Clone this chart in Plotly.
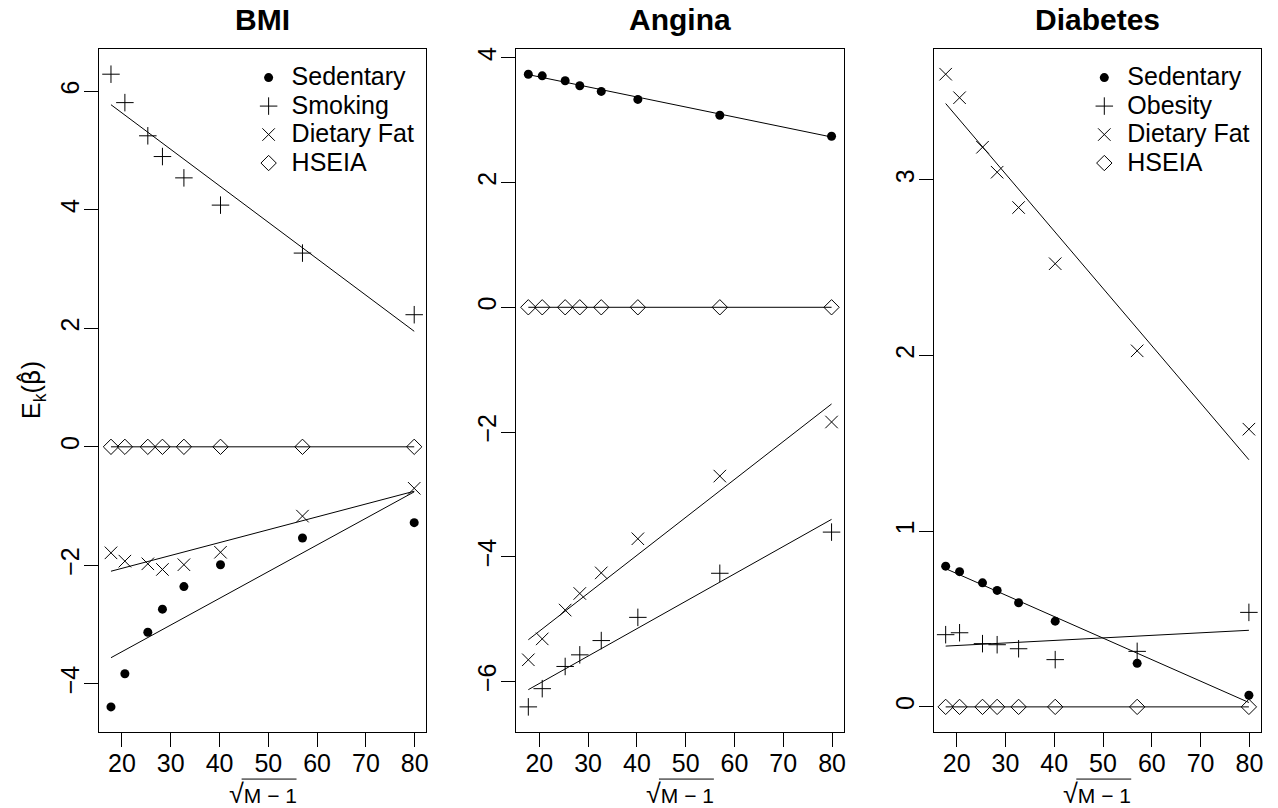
import plotly.graph_objects as go

# ---------------- data ----------------
x_vals = [17.75, 20.6, 25.3, 28.3, 32.7, 40.2, 57.0, 79.9]   # sqrt(M-1)
x_ticks = [20, 30, 40, 50, 60, 70, 80]

panel_titles = ["BMI", "Angina", "Diabetes"]

bmi_names = ["Sedentary", "Smoking", "Dietary Fat", "HSEIA"]
bmi_sedentary = [-4.39, -3.83, -3.13, -2.74, -2.36, -1.99, -1.54, -1.28]
bmi_smoking = [6.29, 5.81, 5.25, 4.90, 4.54, 4.08, 3.27, 2.23]
bmi_dietary_fat = [-1.79, -1.93, -1.975, -2.07, -1.99, -1.78, -1.17, -0.70]
bmi_hseia = [0, 0, 0, 0, 0, 0, 0, 0]
bmi_fit_left = [-3.56, 5.775, -2.10, 0.0]     # fitted line value at first x
bmi_fit_right = [-0.76, 1.95, -0.75, 0.0]     # fitted line value at last x
bmi_yticks = [-4, -2, 0, 2, 4, 6]

angina_names = ["Sedentary", "Smoking", "Dietary Fat", "HSEIA"]
angina_sedentary = [3.737, 3.711, 3.631, 3.551, 3.461, 3.333, 3.078, 2.743]
angina_smoking = [-6.406, -6.114, -5.758, -5.572, -5.343, -4.971, -4.264, -3.604]
angina_dietary_fat = [-5.651, -5.316, -4.854, -4.588, -4.258, -3.711, -2.706, -1.839]
angina_hseia = [0, 0, 0, 0, 0, 0, 0, 0]
angina_fit_left = [3.73, -6.13, -5.33, 0.0]
angina_fit_right = [2.73, -3.40, -1.55, 0.0]
angina_yticks = [-6, -4, -2, 0, 2, 4]

diab_names = ["Sedentary", "Obesity", "Dietary Fat", "HSEIA"]
diab_sedentary = [0.801, 0.770, 0.706, 0.663, 0.593, 0.488, 0.248, 0.066]
diab_obesity = [0.411, 0.422, 0.360, 0.354, 0.331, 0.269, 0.316, 0.538]
diab_dietary_fat = [3.602, 3.468, 3.186, 3.044, 2.843, 2.523, 2.027, 1.581]
diab_hseia = [0, 0, 0, 0, 0, 0, 0, 0]
diab_fit_left = [0.787, 0.346, 3.435, 0.0]
diab_fit_right = [0.025, 0.436, 1.407, 0.0]
diab_yticks = [0, 1, 2, 3]

# ---------------- styling ----------------
FONT = "Liberation Sans, Arial, Helvetica, sans-serif"
W, H = 1278, 808
symbols = ["circle", "cross-thin-open", "x-thin-open", "diamond-open"]
sizes = [9, 12.5, 12.5, 11.8]

panels = [
    dict(names=bmi_names, ys=[bmi_sedentary, bmi_smoking, bmi_dietary_fat, bmi_hseia],
         fl=bmi_fit_left, fr=bmi_fit_right, yt=bmi_yticks, legend="legend", box=(99, 427)),
    dict(names=angina_names, ys=[angina_sedentary, angina_smoking, angina_dietary_fat, angina_hseia],
         fl=angina_fit_left, fr=angina_fit_right, yt=angina_yticks, legend=None, box=(517, 845)),
    dict(names=diab_names, ys=[diab_sedentary, diab_obesity, diab_dietary_fat, diab_hseia],
         fl=diab_fit_left, fr=diab_fit_right, yt=diab_yticks, legend="legend2", box=(935, 1263)),
]
box_top, box_bottom = 47, 732
ydom = [1 - box_bottom / H, 1 - box_top / H]


def r_range(vals):
    lo, hi = min(vals), max(vals)
    pad = 0.04 * (hi - lo)
    return [lo - pad, hi + pad]


xr = r_range(x_vals)
fig = go.Figure()
layout = dict(width=W, height=H, margin=dict(l=0, r=0, t=0, b=0),
              paper_bgcolor="white", plot_bgcolor="white", showlegend=True)
annotations = []
shapes = []

for i, p in enumerate(panels):
    k = "" if i == 0 else str(i + 1)
    xa, ya = "x" + k, "y" + k
    allv = [v for s in p["ys"] for v in s]
    yr = r_range(allv)
    for j, (nm, ys) in enumerate(zip(p["names"], p["ys"])):
        fig.add_trace(go.Scatter(
            x=[x_vals[0], x_vals[-1]], y=[p["fl"][j], p["fr"][j]], mode="lines",
            line=dict(color="black", width=1), xaxis=xa, yaxis=ya,
            showlegend=False, hoverinfo="skip"))
        mk = dict(symbol=symbols[j], size=sizes[j], color="black",
                  line=dict(color="black", width=0 if j == 0 else 1))
        fig.add_trace(go.Scatter(
            x=x_vals, y=ys, mode="markers", marker=mk, xaxis=xa, yaxis=ya,
            name='<span style="font-size:25px">%s</span>' % nm,
            showlegend=p["legend"] is not None,
            legend=p["legend"] if p["legend"] else "legend"))
    x0, x1 = p["box"]
    axcommon = dict(ticks="outside", ticklen=14, tickwidth=1, tickcolor="black",
                    showline=True, linecolor="black", linewidth=1, mirror=True,
                    showgrid=False, zeroline=False,
                    tickfont=dict(family=FONT, size=25, color="black"))
    layout["xaxis" + k] = dict(domain=[x0 / W, x1 / W], anchor=ya, range=xr,
                               tickmode="array", tickvals=x_ticks,
                               ticktext=[str(t) for t in x_ticks],
                               ticklabelstandoff=-5, **axcommon)
    layout["yaxis" + k] = dict(domain=ydom, anchor=xa, range=yr, tickmode="array",
                               tickvals=p["yt"],
                               ticktext=[str(t).replace("-", "\u2212") for t in p["yt"]],
                               tickangle=-90, ticklabelstandoff=-5, **axcommon)
    cxp = (x0 + x1) / 2
    cx = cxp / W
    annotations.append(dict(text="<b>%s</b>" % panel_titles[i], x=cx, y=1 - 18 / H,
                            xref="paper", yref="paper", showarrow=False,
                            xanchor="center", yanchor="middle",
                            font=dict(family=FONT, size=30, color="black")))
    annotations.append(dict(text='<span style="font-size:27px">\u221a</span>M \u2212 1',
                            x=cx, y=1 - 793.5 / H, xref="paper", yref="paper",
                            showarrow=False, xanchor="center", yanchor="middle",
                            font=dict(family=FONT, size=21, color="black")))
    # radical overline (decoration of the axis title)
    shapes.append(dict(type="line", xref="paper", yref="paper",
                       x0=(cxp - 21) / W, x1=(cxp + 34) / W,
                       y0=1 - 779 / H, y1=1 - 779 / H,
                       line=dict(color="black", width=1)))

annotations.append(dict(text='E<sub>k</sub>(<span style="font-family:DejaVu Sans">\u03b2\u0302</span>)',
                        x=33 / W, y=1 - 389 / H,
                        xref="paper", yref="paper", showarrow=False, textangle=-90,
                        xanchor="center", yanchor="middle",
                        font=dict(family=FONT, size=25, color="black")))

legcommon = dict(xanchor="left", yanchor="top", bgcolor="rgba(0,0,0,0)", borderwidth=0,
                 font=dict(family=FONT, size=19.6, color="black"), tracegroupgap=0,
                 itemwidth=36, itemclick=False, itemdoubleclick=False)
layout["legend"] = dict(x=246 / W, y=1 - 56.5 / H, **legcommon)
layout["legend2"] = dict(x=1083 / W, y=1 - 56.5 / H, **legcommon)
layout["annotations"] = annotations
layout["shapes"] = shapes
fig.update_layout(**layout)
fig.write_html("out.html")
